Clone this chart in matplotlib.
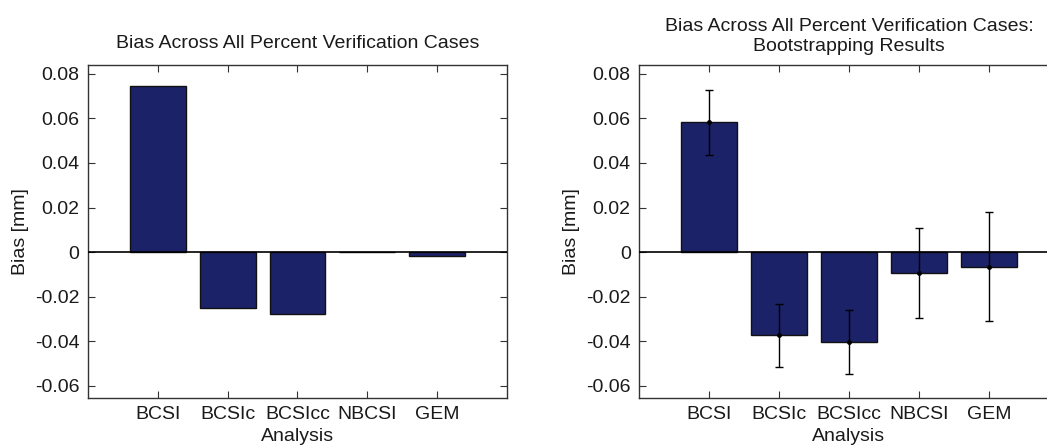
import matplotlib
matplotlib.use("Agg")
import matplotlib.pyplot as plt
import numpy as np

plt.rcParams['font.family'] = ['Liberation Sans', 'DejaVu Sans']

# data
analyses = ['BCSI', 'BCSIc', 'BCSIcc', 'NBCSI', 'GEM']
bias_all = [0.0744, -0.0250, -0.0279, 0.0, -0.0018]
bias_boot = [0.0582, -0.0374, -0.0405, -0.0094, -0.0066]
boot_err = [0.0146, 0.0140, 0.0143, 0.0200, 0.0244]
yticks = [-0.06, -0.04, -0.02, 0, 0.02, 0.04, 0.06, 0.08]
yticklabels = ['-0.06', '-0.04', '-0.02', '0', '0.02', '0.04', '0.06', '0.08']

bar_color = '#1b2267'
txt = '#1a1a1a'
fs = 14

fig = plt.figure(figsize=(10.47, 4.46), dpi=100)
ax1 = fig.add_axes([0.0840, 0.1076, 0.4002, 0.7467])
ax2 = fig.add_axes([0.6103, 0.1076, 0.4011, 0.7467])

x = np.arange(1, len(analyses) + 1)


def style(ax):
    ax.set_xlim(0, 6)
    ax.set_ylim(-0.0655, 0.084)
    ax.axhline(0, color='black', lw=1.2, zorder=3)
    ax.set_xticks(x)
    ax.set_xticklabels(analyses)
    ax.set_yticks(yticks)
    ax.set_yticklabels(yticklabels)
    ax.tick_params(direction='in', length=5, width=0.8, top=True, right=True,
                   labelsize=fs, labelcolor=txt, color='#333333', pad=6)
    for s in ax.spines.values():
        s.set_color('#333333')
        s.set_linewidth(1.0)
    ax.set_xlabel('Analysis', fontsize=fs, color=txt, labelpad=3)
    ax.set_ylabel('Bias [mm]', fontsize=fs, color=txt, labelpad=4)


ax1.bar(x, bias_all, width=0.8, color=bar_color, edgecolor='#111111', linewidth=1.0, zorder=2)
style(ax1)
ax1.set_title('Bias Across All Percent Verification Cases', fontsize=fs, color=txt, pad=12)

ax2.bar(x, bias_boot, width=0.8, color=bar_color, edgecolor='#111111', linewidth=1.0, zorder=2)
ax2.errorbar(x, bias_boot, yerr=boot_err, fmt='.', color='black', ms=5,
             elinewidth=1.0, capsize=3, capthick=1.0, zorder=4)
style(ax2)
ax2.set_title('Bias Across All Percent Verification Cases:\nBootstrapping Results',
              fontsize=fs, color=txt, pad=10, linespacing=1.2)

fig.savefig('out.png', dpi=100)
